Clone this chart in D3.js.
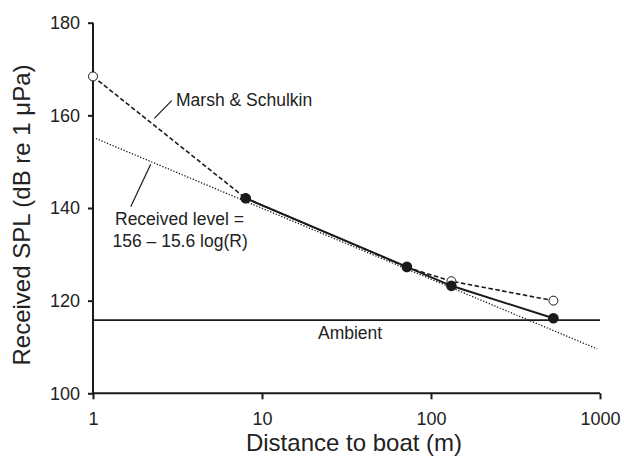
<!DOCTYPE html>
<html><head><meta charset="utf-8">
<script src="https://cdn.jsdelivr.net/npm/d3@7"></script>
<style>
body{margin:0;background:#fff;}
text{font-family:"Liberation Sans",Arial,sans-serif;fill:#222;}
</style></head>
<body><svg id="c" width="624" height="460"></svg>
<script>
const xTicks = [1, 10, 100, 1000];
const yTicks = [100, 120, 140, 160, 180];
const marshSchulkin = [[1, 168.4], [8, 142.1], [72, 127.2], [132, 124.2], [530, 120.0]];
const measured = [[8, 142.1], [72, 127.3], [132, 123.2], [530, 116.2]];
const regression = [[1.04, 155.0], [960, 109.6]];
const ambientLevel = 115.8;
const labels = {
  x: "Distance to boat (m)",
  y: "Received SPL (dB re 1 \u03bcPa)",
  marsh: "Marsh & Schulkin",
  rl1: "Received level =",
  rl2: "156 \u2013 15.6 log(R)",
  ambient: "Ambient"
};

const svg = d3.select("#c");
const x = d3.scaleLog().domain([1, 1000]).range([93, 600]);
const y = d3.scaleLinear().domain([100, 180]).range([393.3, 22.7]);
const ink = "#1a1a1a";

const line = d3.line().x(d => x(d[0])).y(d => y(d[1]));

// regression (dotted)
svg.append("path").datum(regression).attr("d", line)
  .attr("fill", "none").attr("stroke", ink).attr("stroke-width", 1.3)
  .attr("stroke-dasharray", "1.3,1.7");
// Marsh & Schulkin (dashed)
svg.append("path").datum(marshSchulkin).attr("d", line)
  .attr("fill", "none").attr("stroke", ink).attr("stroke-width", 1.6)
  .attr("stroke-dasharray", "4.5,2.5");
// measured (solid)
svg.append("path").datum(measured).attr("d", line)
  .attr("fill", "none").attr("stroke", ink).attr("stroke-width", 2);
// ambient
svg.append("line").attr("x1", x(1)).attr("x2", x(1000))
  .attr("y1", y(ambientLevel)).attr("y2", y(ambientLevel))
  .attr("stroke", ink).attr("stroke-width", 1.8);

// axes
const xAxis = svg.append("g").attr("transform", `translate(0,${y(100)})`)
  .call(d3.axisBottom(x).tickValues(xTicks).tickFormat(d3.format("d")).tickSize(6).tickPadding(13));
const yAxis = svg.append("g").attr("transform", `translate(${x(1)},0)`)
  .call(d3.axisLeft(y).tickValues(yTicks).tickSize(5).tickPadding(8));
[xAxis, yAxis].forEach(g => {
  g.select(".domain").attr("stroke", ink).attr("stroke-width", 2);
  g.selectAll(".tick line").attr("stroke", ink).attr("stroke-width", 2);
  g.selectAll(".tick text").attr("font-size", 18).attr("fill", "#222")
    .attr("font-family", "Liberation Sans, Arial, sans-serif");
});
xAxis.select(".domain").attr("d", `M${x(1)},0H${x(1000)}`);
yAxis.select(".domain").attr("d", `M0,${y(100)}V${y(180)}`);

// markers
svg.selectAll("circle.open").data(marshSchulkin).join("circle").attr("class", "open")
  .attr("cx", d => x(d[0])).attr("cy", d => y(d[1])).attr("r", 4.5)
  .attr("fill", "#fff").attr("stroke", ink).attr("stroke-width", 1);
svg.selectAll("circle.filled").data(measured).join("circle").attr("class", "filled")
  .attr("cx", d => x(d[0])).attr("cy", d => y(d[1])).attr("r", 5.3)
  .attr("fill", ink);

// annotations
svg.append("line").attr("x1", 154.3).attr("y1", 118.3).attr("x2", 171.7).attr("y2", 100.7)
  .attr("stroke", ink).attr("stroke-width", 1.2);
svg.append("text").attr("x", 176).attr("y", 106).attr("font-size", 17.5).text(labels.marsh);
svg.append("line").attr("x1", 130.7).attr("y1", 206.7).attr("x2", 150.7).attr("y2", 164.3)
  .attr("stroke", ink).attr("stroke-width", 1.2);
svg.append("text").attr("x", 115).attr("y", 225).attr("font-size", 17.5).text(labels.rl1);
svg.append("text").attr("x", 112.5).attr("y", 247).attr("font-size", 17.5).text(labels.rl2);
svg.append("text").attr("x", 318).attr("y", 339).attr("font-size", 17.5).text(labels.ambient);

// axis titles
svg.append("text").attr("x", 354).attr("y", 451).attr("text-anchor", "middle")
  .attr("font-size", 24).text(labels.x);
svg.append("text").attr("transform", "translate(30,215) rotate(-90)").attr("text-anchor", "middle")
  .attr("font-size", 24).text(labels.y);
</script></body></html>
